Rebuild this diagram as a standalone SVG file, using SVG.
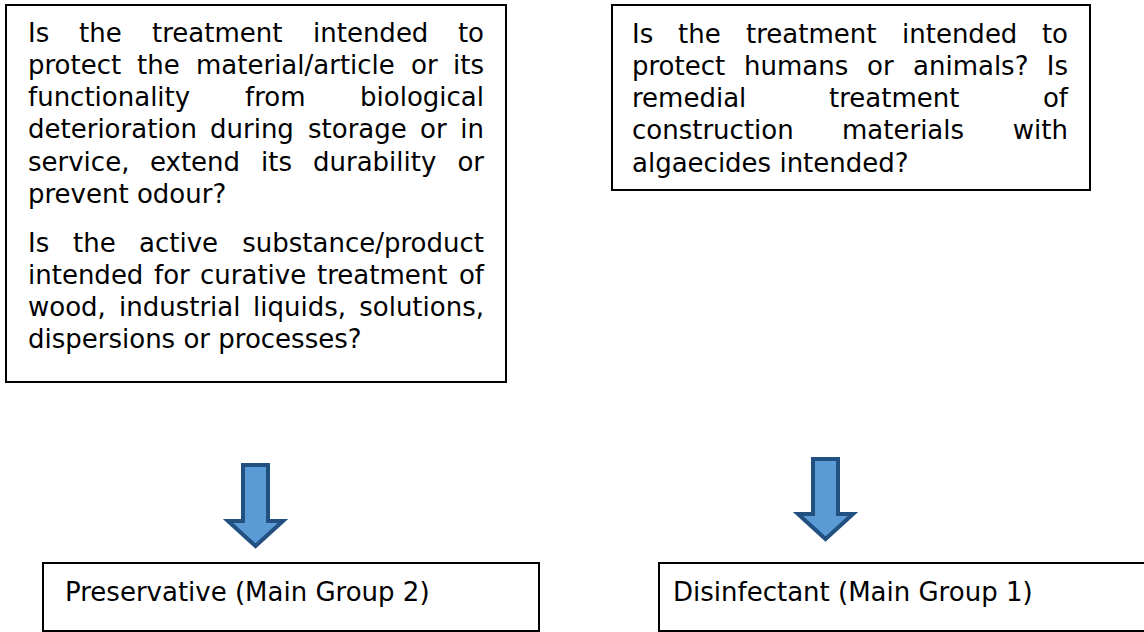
<svg xmlns="http://www.w3.org/2000/svg" width="1144" height="632" viewBox="0 0 1144 632">
<style>
.box{fill:#fff;stroke:#000;stroke-width:2}
.t{font-family:"DejaVu Sans",Verdana,sans-serif;font-size:26px;fill:#000}
.e{text-anchor:end}
.arrow{fill:#5b9bd5;stroke:#215081;stroke-width:4;stroke-linejoin:miter}
</style>
<rect width="1144" height="632" fill="#fff"/>
<g id="q-preservative">
<rect class="box" x="6" y="5" width="500" height="377"/>
<text class="t" y="42"><tspan x="28">Is</tspan><tspan x="79">the</tspan><tspan x="152">treatment</tspan><tspan x="313">intended</tspan><tspan x="484" class="e">to</tspan></text>
<text class="t" y="74"><tspan x="28">protect</tspan><tspan x="137">the</tspan><tspan x="196">material/article</tspan><tspan x="411">or</tspan><tspan x="484" class="e">its</tspan></text>
<text class="t" y="106"><tspan x="28">functionality</tspan><tspan x="245">from</tspan><tspan x="484" class="e">biological</tspan></text>
<text class="t" y="138"><tspan x="28">deterioration</tspan><tspan x="210">during</tspan><tspan x="308">storage</tspan><tspan x="420">or</tspan><tspan x="484" class="e">in</tspan></text>
<text class="t" y="171"><tspan x="28">service,</tspan><tspan x="150">extend</tspan><tspan x="261">its</tspan><tspan x="313">durability</tspan><tspan x="484" class="e">or</tspan></text>
<text class="t" x="28" y="203">prevent odour?</text>
<text class="t" y="252"><tspan x="28">Is</tspan><tspan x="73">the</tspan><tspan x="139">active</tspan><tspan x="484" class="e">substance/product</tspan></text>
<text class="t" y="284"><tspan x="28">intended</tspan><tspan x="154">for</tspan><tspan x="200">curative</tspan><tspan x="317">treatment</tspan><tspan x="484" class="e">of</tspan></text>
<text class="t" y="316"><tspan x="28">wood,</tspan><tspan x="119">industrial</tspan><tspan x="253">liquids,</tspan><tspan x="484" class="e">solutions,</tspan></text>
<text class="t" x="28" y="348">dispersions or processes?</text>
</g>
<g id="q-disinfectant">
<rect class="box" x="612" y="5" width="478" height="185"/>
<text class="t" y="43"><tspan x="632">Is</tspan><tspan x="678">the</tspan><tspan x="746">treatment</tspan><tspan x="902">intended</tspan><tspan x="1068" class="e">to</tspan></text>
<text class="t" y="75"><tspan x="632">protect</tspan><tspan x="744">humans</tspan><tspan x="867">or</tspan><tspan x="913">animals?</tspan><tspan x="1068" class="e">Is</tspan></text>
<text class="t" y="107"><tspan x="632">remedial</tspan><tspan x="829">treatment</tspan><tspan x="1068" class="e">of</tspan></text>
<text class="t" y="139"><tspan x="632">construction</tspan><tspan x="842">materials</tspan><tspan x="1068" class="e">with</tspan></text>
<text class="t" x="632" y="172">algaecides intended?</text>
</g>
<g id="connectors">
<path class="arrow" d="M243,465 H268 V521 H283 L255.5,546 L228,521 H243 Z"/>
<path class="arrow" d="M813,459 H838 V514 H853 L825.5,539 L798,514 H813 Z"/>
</g>
<g id="preservative">
<rect class="box" x="43" y="563" width="496" height="68"/>
<text class="t" x="65" y="601">Preservative (Main Group 2)</text>
</g>
<g id="disinfectant">
<rect class="box" x="659" y="563" width="500" height="68"/>
<text class="t" x="673" y="601">Disinfectant (Main Group 1)</text>
</g>
</svg>
